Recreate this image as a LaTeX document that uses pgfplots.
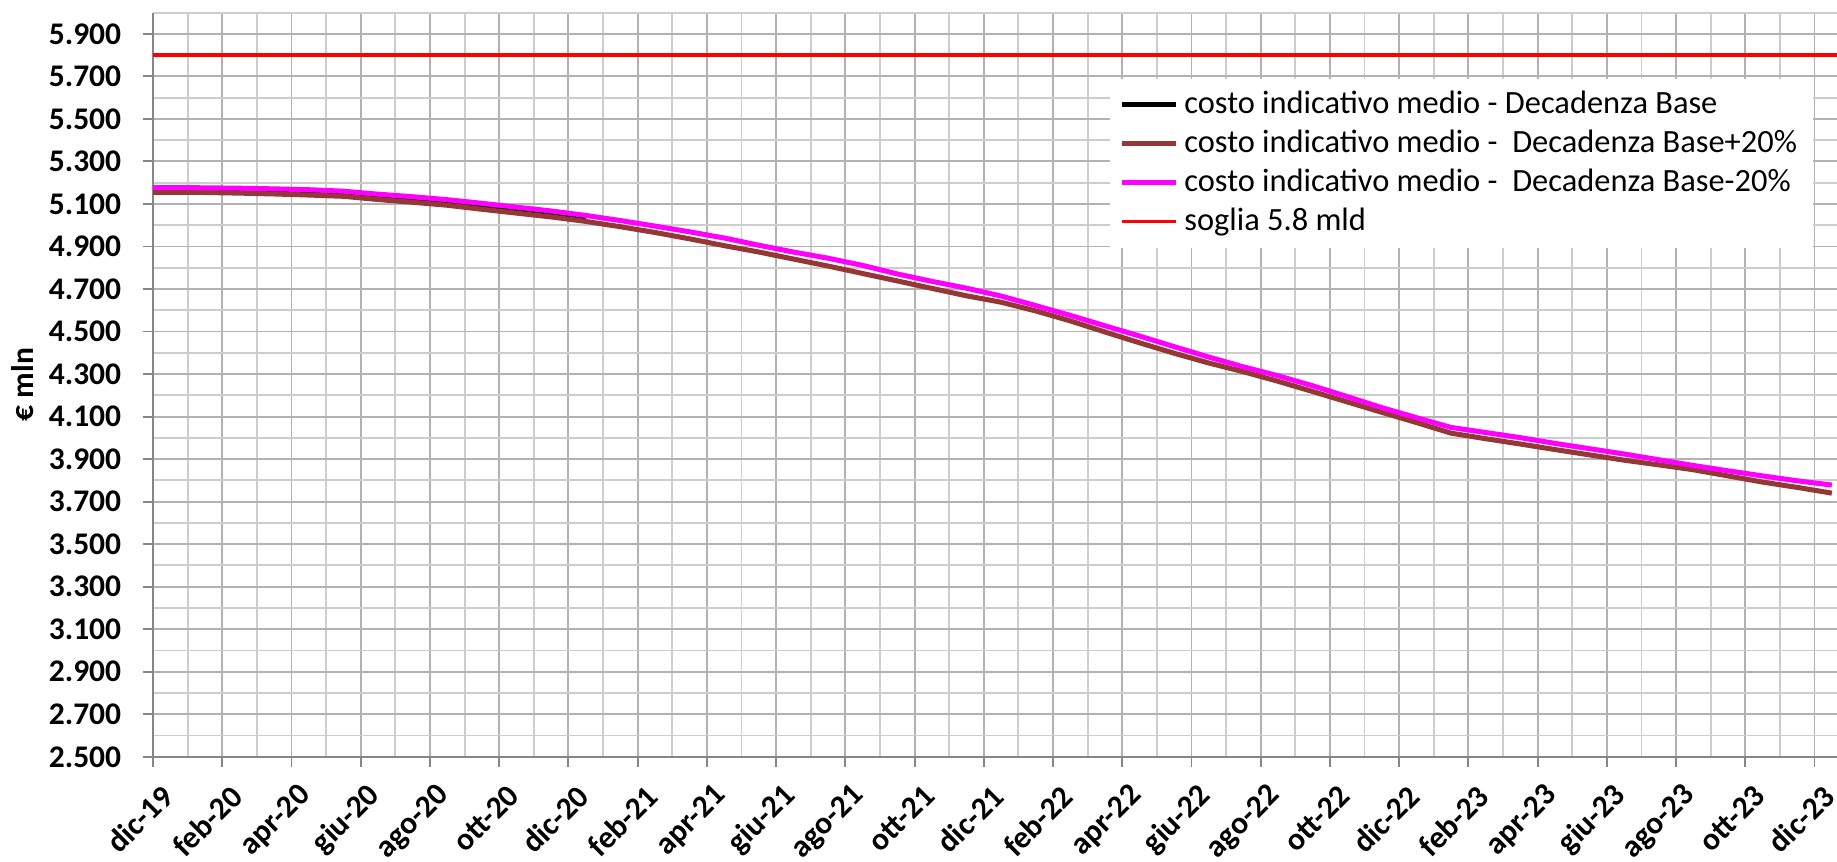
\documentclass[border=0pt]{standalone}
\usepackage{pgfplots}
\pgfplotsset{compat=1.18}
\usepackage{fontspec}
\setmainfont{Carlito}
\definecolor{axgray}{RGB}{134,134,134}
\definecolor{gmaj}{RGB}{178,178,178}
\definecolor{gmin}{RGB}{205,205,205}
\definecolor{brownx}{RGB}{149,55,53}
\definecolor{magx}{RGB}{255,0,255}
\definecolor{redx}{RGB}{255,0,0}
\pgfplotstableread{
x v
-0.5 5163
0.5 5163
1.5 5162
2.5 5160
3.5 5156
4.5 5151
5.5 5146
6.5 5131
7.5 5118
8.5 5104
9.5 5086
10.5 5068
11.5 5050
12.5 5030
}\base
\pgfplotstableread{
x v
-0.5 5155
0.5 5155
1.5 5154
2.5 5151
3.5 5147
4.5 5142
5.5 5136
6.5 5121
7.5 5108
8.5 5094
9.5 5075
10.5 5057
11.5 5039
12.5 5018
13.5 4993
14.5 4966
15.5 4936
16.5 4904
17.5 4874
18.5 4841
19.5 4808
20.5 4773
21.5 4738
22.5 4703
23.5 4668
24.5 4638
25.5 4597
26.5 4550
27.5 4498
28.5 4447
29.5 4398
30.5 4352
31.5 4311
32.5 4266
33.5 4218
34.5 4169
35.5 4120
36.5 4072
37.5 4022
38.5 3996
39.5 3971
40.5 3945
41.5 3920
42.5 3895
43.5 3873
44.5 3850
45.5 3821
46.5 3792
47.5 3767
48.5 3740
}\plus
\pgfplotstableread{
x v
-0.5 5177
0.5 5177
1.5 5176
2.5 5174
3.5 5171
4.5 5167
5.5 5160
6.5 5146
7.5 5134
8.5 5120
9.5 5103
10.5 5085
11.5 5067
12.5 5046
13.5 5022
14.5 4996
15.5 4969
16.5 4940
17.5 4906
18.5 4874
19.5 4845
20.5 4811
21.5 4771
22.5 4736
23.5 4704
24.5 4667
25.5 4622
26.5 4576
27.5 4527
28.5 4479
29.5 4429
30.5 4380
31.5 4334
32.5 4292
33.5 4245
34.5 4194
35.5 4142
36.5 4095
37.5 4049
38.5 4025
39.5 4001
40.5 3974
41.5 3949
42.5 3924
43.5 3897
44.5 3870
45.5 3845
46.5 3821
47.5 3798
48.5 3778
}\minus
\begin{document}
\begin{tikzpicture}
\begin{axis}[
  scale only axis, width=534.7pt, height=236.3pt,
  xmin=0, xmax=48.65, ymin=2500, ymax=6000,
  axis x line*=bottom, axis y line*=left,
  axis line style={axgray, line width=0.7pt},
  xtick={0,2,...,48}, minor xtick={1,3,...,47},
  ytick={2500,2700,...,5900}, minor ytick={2600,2800,...,6000},
  xticklabels={dic-19,feb-20,apr-20,giu-20,ago-20,ott-20,dic-20,feb-21,apr-21,giu-21,ago-21,ott-21,dic-21,feb-22,apr-22,giu-22,ago-22,ott-22,dic-22,feb-23,apr-23,giu-23,ago-23,ott-23,dic-23},
  yticklabels={2.500,2.700,2.900,3.100,3.300,3.500,3.700,3.900,4.100,4.300,4.500,4.700,4.900,5.100,5.300,5.500,5.700,5.900},
  grid=both,
  major grid style={gmaj, line width=0.6pt},
  minor grid style={gmin, line width=0.6pt},
  tick align=outside, major tick length=3.2pt, minor tick length=0pt,
  tick style={axgray, line width=0.6pt},
  yticklabel style={font=\bfseries, xshift=-3.4pt},
  xticklabel style={font=\bfseries, xshift=7.1pt, yshift=-5.2pt, rotate=45, anchor=east},
  legend style={at={(0.986,0.912)}, anchor=north east, draw=none, fill=white,
    inner xsep=3pt, inner ysep=2pt, row sep=-0.3pt, font=\fontsize{10.3}{12}\selectfont},
  legend cell align=left,
  legend image code/.code={\draw[#1] (0cm,0cm) -- (0.6cm,0cm);},
]
\addplot[black, line width=1.6pt] table[x=x,y=v]{\base};
\addlegendentry{costo indicativo medio - Decadenza Base}
\addplot[brownx, line width=1.6pt] table[x=x,y=v]{\plus};
\addlegendentry{costo indicativo medio - \ Decadenza Base+20\%}
\addplot[magx, line width=1.6pt] table[x=x,y=v]{\minus};
\addlegendentry{costo indicativo medio - \ Decadenza Base-20\%}
\addplot[redx, line width=1.1pt] coordinates {(-1,5800) (50,5800)};
\addlegendentry{soglia 5.8 mld}
\coordinate (SW) at (rel axis cs:0,0);
\coordinate (NE) at (rel axis cs:1,1);
\coordinate (LM) at (rel axis cs:0,0.5);
\end{axis}
\node[rotate=90, font=\bfseries] at ([xshift=-41.3pt]LM) {€ mln};
\pgfresetboundingbox
\path[use as bounding box] ([xshift=-48.6pt,yshift=-33.3pt]SW) rectangle ([yshift=4pt]NE);
\end{tikzpicture}
\end{document}
